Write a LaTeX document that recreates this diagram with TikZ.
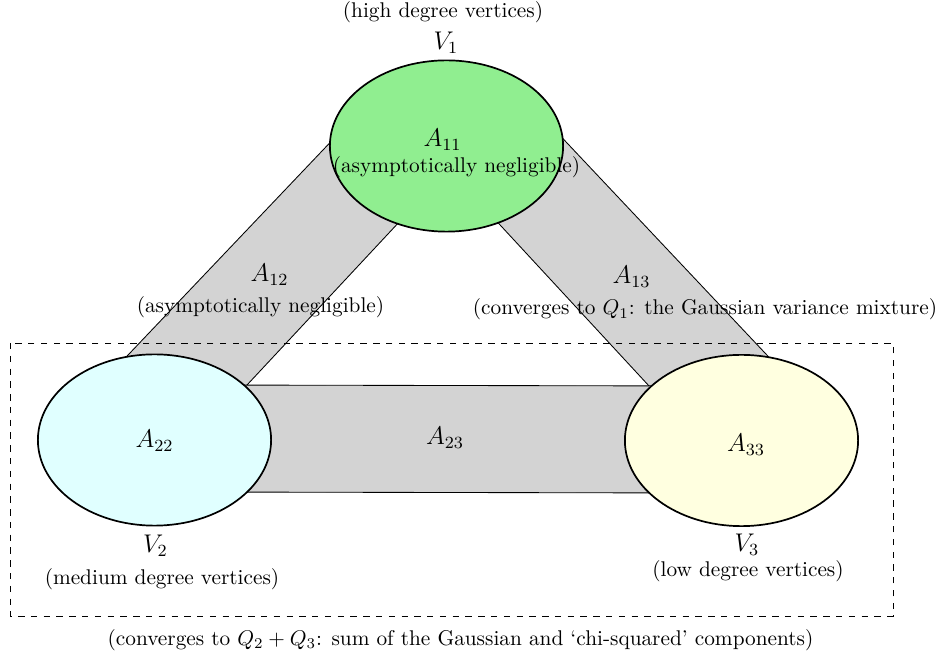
\documentclass[tikz,border=0pt]{standalone}
\usetikzlibrary{shapes.geometric}
\definecolor{bandgray}{RGB}{211,211,211}
\definecolor{vgreen}{RGB}{144,238,144}
\definecolor{vcyan}{RGB}{224,255,255}
\definecolor{vyellow}{RGB}{255,255,224}
\begin{document}
\begin{tikzpicture}[x=0.4695pt,y=-0.4695pt,
  band/.style={fill=bandgray, draw=black, line width=0.4pt},
  vset/.style={ellipse, draw=black, thick, inner sep=0pt, minimum width=109.5pt, minimum height=80.4pt},
  lab/.style={inner sep=0pt, anchor=base, font=\large},
  captxt/.style={inner sep=0pt, anchor=base},
  groupbox/.style={draw=black, dashed, line width=0.4pt}]
\useasboundingbox (0,0) rectangle (941,655);
% bands (behind the vertex sets)
\draw[band] (342,130) -- (113.8,370) -- (233,400) -- (419.7,200) -- cycle;
\draw[band] (554.8,130) -- (781,370) -- (662,400) -- (477,200) -- cycle;
\draw[band] (200,385) -- (700,386) -- (700,493) -- (200,492) -- cycle;
% dashed group box
\draw[groupbox] (10,343) rectangle (893,616);
% vertex sets
\node[vset, fill=vgreen]  (v1) at (446.5,146) {};
\node[vset, fill=vcyan]   (v2) at (154.5,440) {};
\node[vset, fill=vyellow] (v3) at (741.5,440.5) {};
% labels
\node[captxt] (c1) at (443,17.5) {(high degree vertices)};
\node[lab] (n1) at (446,49.5) {$V_1$};
\node[lab] (a11) at (442.5,146.5) {$A_{11}$};
\node[captxt] (c11) at (456.5,173) {(asymptotically negligible)};
\node[lab] (a12) at (269.5,282) {$A_{12}$};
\node[captxt] (c12) at (260.5,313) {(asymptotically negligible)};
\node[lab] (a13) at (631.5,284) {$A_{13}$};
\node[captxt] (c13) at (705,315) {(converges to $Q_1$: the Gaussian variance mixture)};
\node[lab] (a23) at (445,445) {$A_{23}$};
\node[lab] (a22) at (154.5,447.7) {$A_{22}$};
\node[lab] (a33) at (746,451.5) {$A_{33}$};
\node[lab] (n2) at (155.5,553) {$V_2$};
\node[captxt] (c2) at (162,585) {(medium degree vertices)};
\node[lab] (n3) at (747,551.5) {$V_3$};
\node[captxt] (c3) at (748,576.5) {(low degree vertices)};
\node[captxt] (cb) at (460.5,645) {(converges to $Q_2+Q_3$: sum of the Gaussian and `chi-squared' components)};
\end{tikzpicture}
\end{document}
